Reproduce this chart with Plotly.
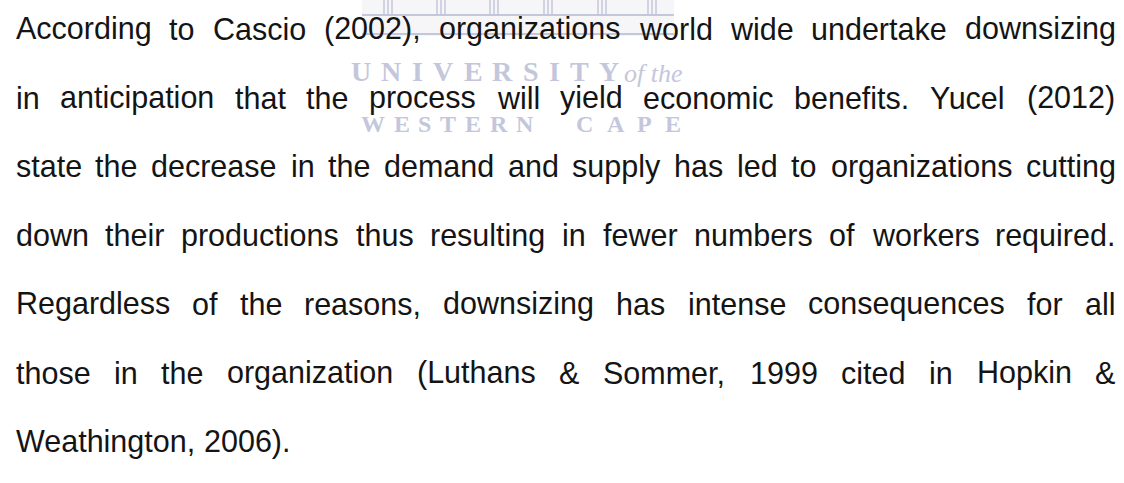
import plotly.graph_objects as go

W, H = 1124, 483

# ---- content ----
lines = [
    "According to Cascio (2002), organizations world wide undertake downsizing",
    "in anticipation that the process will yield economic benefits. Yucel (2012)",
    "state the decrease in the demand and supply has led to organizations cutting",
    "down their productions thus resulting in fewer numbers of workers required.",
    "Regardless of the reasons, downsizing has intense consequences for all",
    "those in the organization (Luthans & Sommer, 1999 cited in Hopkin &",
    "Weathington, 2006).",
]
justified = [True, True, True, True, True, True, False]

wm_word1 = "UNIVERSITY"
wm_word2 = "of the"
wm_word3 = ["WESTERN", "CAPE"]
column_centers = [388, 441, 494, 548, 602, 652]

# ---- style ----
FS = 30.5
FONT = "Liberation Sans, Arial, sans-serif"
LEFT, RIGHT = 14.5, 1114.5
BASE0, LEAD = 39.5, 68.75
TEXT_COL = "#141414"
WM_COL = "#c4c7db"
SERIF = "Liberation Serif, Times New Roman, serif"

# Arial advance widths (1/1000 em)
AW = {' ': 278, '!': 278, '"': 355, '#': 556, '$': 556, '%': 889, '&': 667, "'": 191,
      '(': 333, ')': 333, '*': 389, '+': 584, ',': 278, '-': 333, '.': 278, '/': 278,
      ':': 278, ';': 278,
      'A': 667, 'B': 667, 'C': 722, 'D': 722, 'E': 667, 'F': 611, 'G': 778, 'H': 722,
      'I': 278, 'J': 500, 'K': 667, 'L': 556, 'M': 833, 'N': 722, 'O': 778, 'P': 667,
      'Q': 778, 'R': 722, 'S': 667, 'T': 611, 'U': 722, 'V': 667, 'W': 944, 'X': 667,
      'Y': 667, 'Z': 611,
      'a': 556, 'b': 556, 'c': 500, 'd': 556, 'e': 556, 'f': 278, 'g': 556, 'h': 556,
      'i': 222, 'j': 222, 'k': 500, 'l': 222, 'm': 833, 'n': 556, 'o': 556, 'p': 556,
      'q': 556, 'r': 333, 's': 500, 't': 278, 'u': 556, 'v': 500, 'w': 722, 'x': 500,
      'y': 500, 'z': 500}
for d in "0123456789":
    AW[d] = 556


def wwidth(word, fs=FS):
    return sum(AW.get(c, 556) for c in word) * fs / 1000.0


# Times bold cap widths for watermark
TW = {'U': 722, 'N': 722, 'I': 389, 'V': 722, 'E': 667, 'R': 722, 'S': 556, 'T': 667,
      'Y': 722, 'W': 1000, 'C': 722, 'A': 722, 'P': 611}

fig = go.Figure()
annotations = []
shapes = []

# ---- watermark: building ----
shapes.append(dict(type="rect", x0=362, x1=674, y0=0, y1=36, line=dict(width=0),
                   fillcolor="#f6f6f9", layer="below"))
for cx in column_centers:
    for dx in (-4, 0, 4):
        shapes.append(dict(type="line", x0=cx + dx, x1=cx + dx, y0=0, y1=14,
                           line=dict(color=WM_COL, width=1.5), layer="below"))
for yy in (15, 34):
    shapes.append(dict(type="line", x0=362, x1=674, y0=yy, y1=yy,
                       line=dict(color=WM_COL, width=2), layer="below"))

# ---- watermark: UNIVERSITY of the ----
fs_u = 28
u0, u1 = 350, 618
x = u0
sp_u = (u1 - u0 - sum(TW[c] for c in wm_word1) * fs_u / 1000) / (len(wm_word1) - 1)
for c in wm_word1:
    annotations.append(dict(x=x, y=71, text="<b>" + c + "</b>", xanchor="left",
                            yanchor="middle", showarrow=False, borderpad=0,
                            font=dict(family=SERIF, size=fs_u, color=WM_COL)))
    x += TW[c] * fs_u / 1000 + sp_u
annotations.append(dict(x=623, y=73, text="<i>" + wm_word2 + "</i>", xanchor="left",
                        yanchor="middle", showarrow=False, borderpad=0,
                        font=dict(family=SERIF, size=26, color=WM_COL)))

# ---- watermark: WESTERN CAPE ----
fs_w = 24
starts = [360, 575]
ends = [532, 680]
for word, x0, x1 in zip(wm_word3, starts, ends):
    sp = (x1 - x0 - sum(TW[c] for c in word) * fs_w / 1000) / (len(word) - 1)
    x = x0
    for c in word:
        annotations.append(dict(x=x, y=124, text="<b>" + c + "</b>", xanchor="left",
                                yanchor="middle", showarrow=False, borderpad=0,
                                font=dict(family=SERIF, size=fs_w, color=WM_COL)))
        x += TW[c] * fs_w / 1000 + sp

# ---- body text, justified word by word ----
for k, (line, just) in enumerate(zip(lines, justified)):
    words = line.split(" ")
    base = BASE0 + LEAD * k
    yc = base - 0.3465 * FS
    widths = [wwidth(w) for w in words]
    if just and len(words) > 1:
        gap = (RIGHT - LEFT - sum(widths)) / (len(words) - 1)
    else:
        gap = AW[' '] * FS / 1000
    x = LEFT
    for w, wd in zip(words, widths):
        annotations.append(dict(x=x, y=yc, text=w.replace("&", "&amp;"), xanchor="left",
                                yanchor="middle", showarrow=False, borderpad=0,
                                font=dict(family=FONT, size=FS, color=TEXT_COL)))
        x += wd + gap

fig.update_layout(
    width=W, height=H,
    margin=dict(l=0, r=0, t=0, b=0),
    paper_bgcolor="white", plot_bgcolor="white",
    xaxis=dict(range=[0, W], visible=False, fixedrange=True),
    yaxis=dict(range=[H, 0], visible=False, fixedrange=True),
    annotations=annotations, shapes=shapes, showlegend=False,
)
fig.write_html(
    "out.html",
    config={"displayModeBar": False},
    post_script="document.body.style.margin='0';document.body.style.overflow='hidden';",
)
